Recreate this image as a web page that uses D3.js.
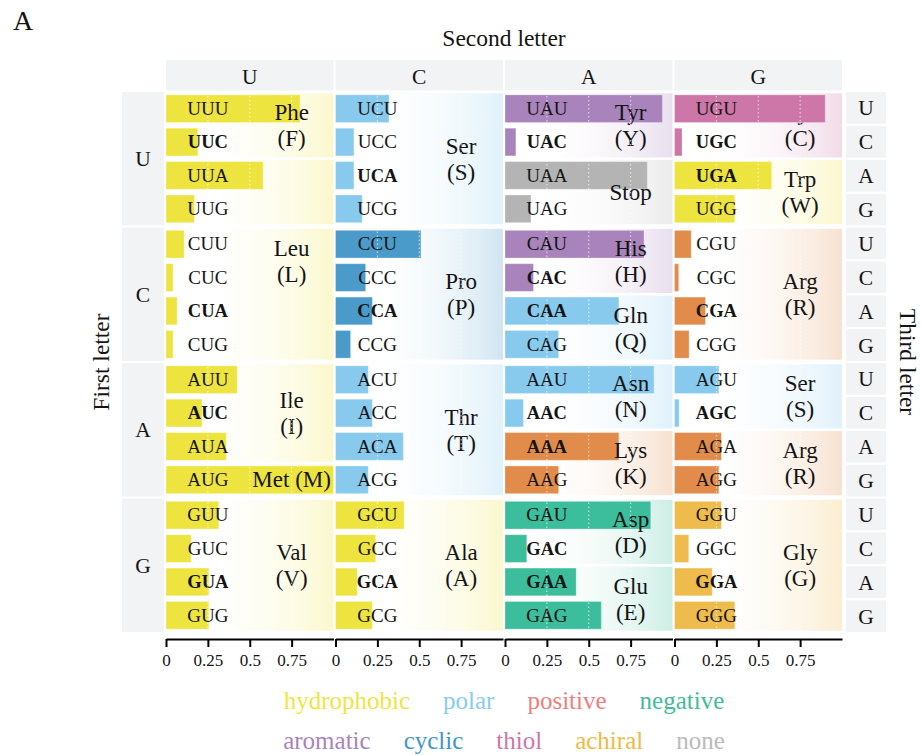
<!DOCTYPE html>
<html><head><meta charset="utf-8">
<script src="https://cdn.jsdelivr.net/npm/d3@7"></script>
<style>
html,body{margin:0;padding:0;background:#fff;}
text{font-family:"Liberation Serif","Times New Roman",serif;}
</style></head>
<body><svg id="chart" width="921" height="755"></svg>
<script>
// ---------------- DATA ----------------
const bases = ["U","C","A","G"];
const tickValues = [0, 0.25, 0.5, 0.75];

// codons ordered by first letter, second letter, third letter
const codons = [
 "UUU","UUC","UUA","UUG","UCU","UCC","UCA","UCG","UAU","UAC","UAA","UAG","UGU","UGC","UGA","UGG",
 "CUU","CUC","CUA","CUG","CCU","CCC","CCA","CCG","CAU","CAC","CAA","CAG","CGU","CGC","CGA","CGG",
 "AUU","AUC","AUA","AUG","ACU","ACC","ACA","ACG","AAU","AAC","AAA","AAG","AGU","AGC","AGA","AGG",
 "GUU","GUC","GUA","GUG","GCU","GCC","GCA","GCG","GAU","GAC","GAA","GAG","GGU","GGC","GGA","GGG"];
const usage = [
 0.80,0.19,0.58,0.17, 0.32,0.11,0.11,0.16, 0.94,0.065,0.85,0.155, 0.90,0.045,0.58,0.36,
 0.108,0.042,0.066,0.042, 0.51,0.18,0.22,0.09, 0.83,0.17,0.68,0.32, 0.10,0.025,0.185,0.087,
 0.425,0.215,0.36,1.0, 0.196,0.22,0.405,0.196, 0.89,0.11,0.68,0.32, 0.265,0.027,0.28,0.265,
 0.315,0.15,0.256,0.256, 0.41,0.24,0.13,0.22, 0.87,0.13,0.425,0.575, 0.28,0.085,0.225,0.36];
const codonAA = [
 "Phe","Phe","Leu","Leu","Ser","Ser","Ser","Ser","Tyr","Tyr","Stop","Stop","Cys","Cys","Trp","Trp",
 "Leu","Leu","Leu","Leu","Pro","Pro","Pro","Pro","His","His","Gln","Gln","Arg","Arg","Arg","Arg",
 "Ile","Ile","Ile","Met","Thr","Thr","Thr","Thr","Asn","Asn","Lys","Lys","Ser","Ser","Arg","Arg",
 "Val","Val","Val","Val","Ala","Ala","Ala","Ala","Asp","Asp","Glu","Glu","Gly","Gly","Gly","Gly"];
const boldCodons = ["UUC","UCA","UAC","UGC","UGA","CUA","CCA","CAC","CAA","CGA",
 "AUC","AAC","AAA","AGC","GUA","GCA","GAC","GAA","GGA"];

const aaNames   = ["Phe","Leu","Ile","Met","Val","Ser","Pro","Thr","Ala","Tyr","Stop","His","Gln","Asn","Lys","Asp","Glu","Cys","Trp","Arg","Gly"];
const aaLetters = ["F","L","I","M","V","S","P","T","A","Y","","H","Q","N","K","D","E","C","W","R","G"];
const aaClasses = ["hydrophobic","hydrophobic","hydrophobic","hydrophobic","hydrophobic","polar","cyclic","polar","hydrophobic",
 "aromatic","none","aromatic","polar","polar","positive","negative","negative","thiol","hydrophobic","positive","achiral"];
const labelsUnderBars = ["Cys"];

const classNames   = ["hydrophobic","polar","positive","negative","aromatic","cyclic","thiol","achiral","none"];
const barColors    = ["#EEE43F","#88CAEE","#E18C4A","#3CBD9B","#A983BC","#4A9BCA","#CC77A7","#EEBB4D","#B4B4B4"];
const legendColors = ["#EEE544","#88CCEE","#EE8080","#44BB99","#A884BE","#4197CA","#CC77AA","#EEBB44","#BBBBBB"];
const legendRows = [["hydrophobic","polar","positive","negative"],["aromatic","cyclic","thiol","achiral","none"]];

// ---------------- LAYOUT ----------------
const svg = d3.select("#chart");
const FONT = '"Liberation Serif","Times New Roman",serif';
const INK = "#141414";
const STRIP = "#F2F3F5";

const colScale = d3.scaleBand().domain(bases).range([166, 842]).paddingInner(2/169.5);
const rowScale = d3.scaleBand().domain(bases).range([92, 632]).paddingInner(2/135.5);
const PW = colScale.bandwidth(), PH = rowScale.bandwidth();
const cellScale = d3.scaleBand().domain(bases).range([0, PH]);
const barScale = d3.scaleBand().domain(bases).range([0, PH]).paddingInner(0.17).paddingOuter(0.085);
const stripCell = d3.scaleBand().domain(bases).range([0, PH]).paddingInner(0.065);
const xScales = {};
bases.forEach(b => { xScales[b] = d3.scaleLinear().domain([0,1]).range([colScale(b), colScale(b)+PW]); });
const classColor = d3.scaleOrdinal().domain(classNames).range(barColors);
const legendColor = d3.scaleOrdinal().domain(classNames).range(legendColors);
const aaIndex = n => aaNames.indexOf(n);

const records = codons.map((c,i) => ({
  codon: c, first: c[0], second: c[1], third: c[2], value: usage[i], aa: codonAA[i],
  cls: aaClasses[aaIndex(codonAA[i])], bold: boldCodons.includes(c)
}));

// gradients
const defs = svg.append("defs");
classNames.forEach(cn => {
  const g = defs.append("linearGradient").attr("id","grad-"+cn).attr("x1","0").attr("x2","1").attr("y1","0").attr("y2","0");
  [[0,0],[0.3,0],[0.6,0.07],[0.85,0.17],[1,0.26]].forEach(([o,a]) =>
    g.append("stop").attr("offset",o).attr("stop-color",classColor(cn)).attr("stop-opacity",a));
});

const bgLayer = svg.append("g"), underLayer = svg.append("g"), barLayer = svg.append("g"),
      codonLayer = svg.append("g"), labelLayer = svg.append("g"), gridLayer = svg.append("g");

// backgrounds: runs of same amino acid within each panel
bases.forEach(f => bases.forEach(s => {
  const recs = records.filter(r => r.first===f && r.second===s);
  const runs = [];
  recs.forEach(r => {
    if (runs.length && runs[runs.length-1].aa === r.aa) runs[runs.length-1].items.push(r);
    else runs.push({aa:r.aa, cls:r.cls, items:[r]});
  });
  runs.forEach(run => {
    const y0 = rowScale(f) + cellScale(run.items[0].third) + 1.3;
    const y1 = rowScale(f) + cellScale(run.items[run.items.length-1].third) + cellScale.bandwidth() - 1.3;
    bgLayer.append("rect").attr("x", colScale(s)).attr("y", y0).attr("width", PW).attr("height", y1-y0)
      .attr("fill", "url(#grad-"+run.cls+")");
  });
}));

// bars
barLayer.selectAll("rect").data(records).join("rect")
  .attr("x", d => xScales[d.second](0))
  .attr("y", d => rowScale(d.first) + barScale(d.third))
  .attr("width", d => xScales[d.second](d.value) - xScales[d.second](0))
  .attr("height", barScale.bandwidth())
  .attr("fill", d => classColor(d.cls))
  .attr("stroke", "#fff").attr("stroke-opacity", 0.3).attr("stroke-width", 1);

// codon labels
codonLayer.selectAll("text").data(records).join("text")
  .attr("x", d => xScales[d.second](0.25))
  .attr("y", d => rowScale(d.first) + cellScale(d.third) + cellScale.bandwidth()/2 + 6.3)
  .attr("text-anchor","middle").attr("font-family",FONT)
  .attr("font-size", d => d.bold ? 18.5 : 19)
  .attr("font-weight", d => d.bold ? "bold" : "normal")
  .attr("fill", INK).text(d => d.codon);

// amino acid labels: contiguous runs within each column, at mean codon position
bases.forEach(s => {
  const recs = records.filter(r => r.second===s);
  const runs = [];
  recs.forEach((r,i) => {
    const pos = bases.indexOf(r.first)*4 + bases.indexOf(r.third) + 0.5;
    if (runs.length && runs[runs.length-1].aa === r.aa) runs[runs.length-1].pos.push(pos);
    else runs.push({aa:r.aa, pos:[pos]});
  });
  runs.forEach(run => {
    const m = d3.mean(run.pos);
    const ri = Math.min(3, Math.floor(m/4));
    const y = rowScale(bases[ri]) + (m - ri*4) * cellScale.step();
    const k = aaIndex(run.aa), letter = aaLetters[k];
    const layer = labelsUnderBars.includes(run.aa) ? underLayer : labelLayer;
    const t = layer.append("text").attr("x", xScales[s](0.75)).attr("text-anchor","middle")
      .attr("font-family",FONT).attr("font-size",23).attr("fill",INK);
    if (!letter) { t.attr("y", y + 7.5).text(run.aa); }
    else if (run.pos.length === 1) { t.attr("y", y + 7.5).text(run.aa + " (" + letter + ")"); }
    else {
      t.append("tspan").attr("x", xScales[s](0.75)).attr("y", y - 5).text(run.aa);
      t.append("tspan").attr("x", xScales[s](0.75)).attr("y", y + 21).text("(" + letter + ")");
    }
  });
});

// gridlines (white dotted, on top)
bases.forEach(f => bases.forEach(s => {
  [0.25,0.5,0.75].forEach(v => {
    gridLayer.append("line").attr("x1", xScales[s](v)).attr("x2", xScales[s](v))
      .attr("y1", rowScale(f)).attr("y2", rowScale(f)+PH)
      .attr("stroke","#fff").attr("stroke-width",1).attr("stroke-dasharray","1.5,2.5").attr("stroke-opacity",0.75);
  });
}));

// top strips
bases.forEach(s => {
  svg.append("rect").attr("x", colScale(s)).attr("y", 60).attr("width", PW).attr("height", 30.5).attr("fill", STRIP);
  svg.append("text").attr("x", colScale(s)+PW/2).attr("y", 83.5).attr("text-anchor","middle")
    .attr("font-family",FONT).attr("font-size",21.5).attr("fill",INK).text(s);
});
// left strips
bases.forEach(f => {
  svg.append("rect").attr("x", 122).attr("y", rowScale(f)).attr("width", 42).attr("height", PH).attr("fill", STRIP);
  svg.append("text").attr("x", 143).attr("y", rowScale(f)+PH/2+7.5).attr("text-anchor","middle")
    .attr("font-family",FONT).attr("font-size",21.5).attr("fill",INK).text(f);
});
// right strips (third letter)
bases.forEach(f => bases.forEach(t => {
  svg.append("rect").attr("x", 846).attr("y", rowScale(f)+stripCell(t)).attr("width", 40)
    .attr("height", stripCell.bandwidth()).attr("fill", STRIP);
  svg.append("text").attr("x", 866).attr("y", rowScale(f)+stripCell(t)+stripCell.bandwidth()/2+7.5)
    .attr("text-anchor","middle").attr("font-family",FONT).attr("font-size",21.5).attr("fill",INK).text(t);
}));

// x axes
bases.forEach(s => {
  const ax = svg.append("g").attr("transform","translate(0,639)")
    .call(d3.axisBottom(xScales[s]).tickValues(tickValues).tickFormat(d => String(d))
      .tickSizeOuter(0).tickSizeInner(8).tickPadding(7));
  ax.select(".domain").attr("stroke","#000").attr("stroke-width",2);
  ax.selectAll(".tick line").attr("stroke","#000").attr("stroke-width",2);
  ax.selectAll(".tick text").attr("font-family",FONT).attr("font-size",17).attr("fill",INK);
});

// titles
svg.append("text").attr("x",13).attr("y",30).attr("font-family",FONT).attr("font-size",28).attr("fill",INK).text("A");
svg.append("text").attr("x",504).attr("y",46).attr("text-anchor","middle").attr("font-family",FONT)
  .attr("font-size",23.5).attr("fill",INK).text("Second letter");
svg.append("text").attr("transform","translate(109,362) rotate(-90)").attr("text-anchor","middle")
  .attr("font-family",FONT).attr("font-size",23.5).attr("fill",INK).text("First letter");
svg.append("text").attr("transform","translate(900,362) rotate(90)").attr("text-anchor","middle")
  .attr("font-family",FONT).attr("font-size",23.5).attr("fill",INK).text("Third letter");

// legend
const legendY = [709, 749], GAP = 33, CX = 504;
legendRows.forEach((row, ri) => {
  const g = svg.append("g");
  const texts = row.map(n => g.append("text").attr("font-family",FONT).attr("font-size",25)
    .attr("fill", legendColor(n)).attr("y", legendY[ri]).text(n));
  const widths = texts.map(t => t.node().getComputedTextLength());
  const total = d3.sum(widths) + GAP*(row.length-1);
  let x = CX - total/2;
  texts.forEach((t,i) => { t.attr("x", x); x += widths[i] + GAP; });
});
</script></body></html>
